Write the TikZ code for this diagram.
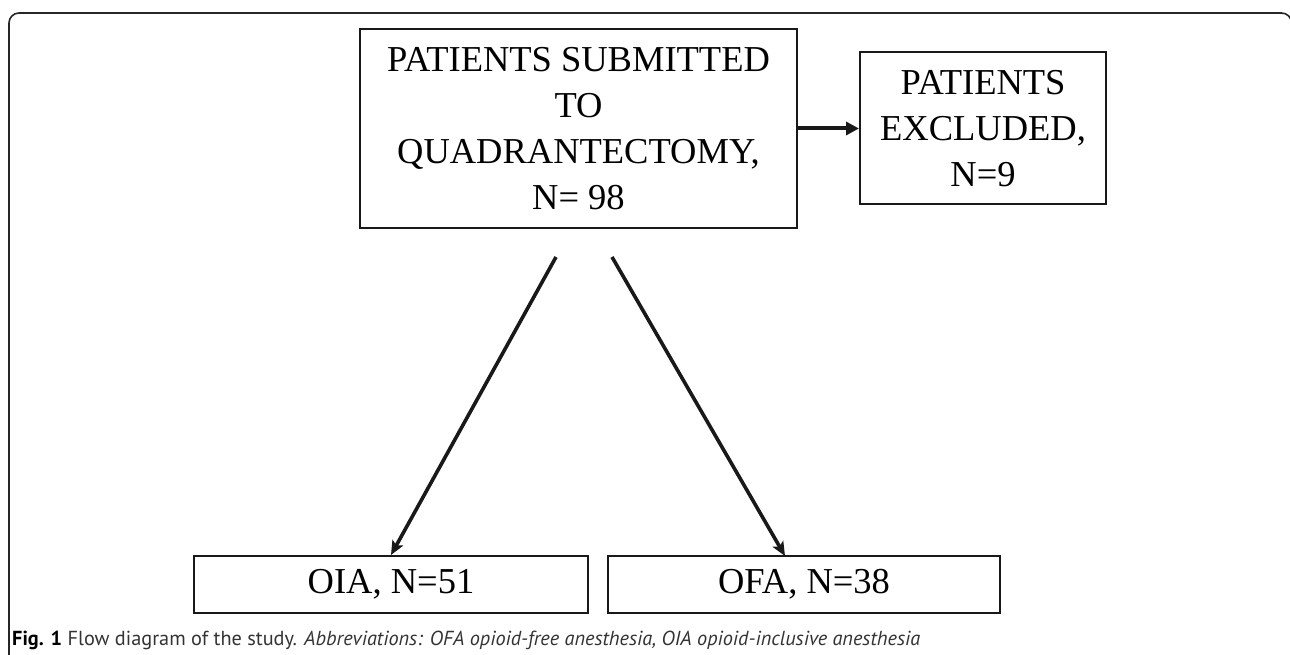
\documentclass[tikz,border=0pt]{standalone}
\usepackage{graphicx}
\usepackage{fontspec}
\setmainfont{Liberation Serif}
\newfontfamily\capfont{PT Sans}
\usetikzlibrary{arrows.meta}
\begin{document}
\begin{tikzpicture}[x=1pt,y=-1pt,
  flowbox/.style={draw=black!90, line width=2pt, align=center, inner sep=0pt,
    font=\fontsize{36.5}{46}\selectfont},
  thickarr/.style={draw=black!90, line width=4pt, -{Triangle[length=13pt,width=13pt]}},
  diagarr/.style={draw=black!90, line width=3.6pt, -{Stealth[length=14pt,width=12pt,inset=3pt]}}]
\useasboundingbox (0,0) rectangle (1290,655);
% outer frame
\draw[line width=1.6pt, black!85, rounded corners=10pt] (9,700) -- (9,13) -- (1291.5,13) -- (1291.5,700);
% nodes
\node[flowbox, minimum width=437pt, minimum height=199pt] (main) at (578.5,128.5)
  {PATIENTS SUBMITTED\\TO\\QUADRANTECTOMY,\\N= 98};
\node[flowbox, minimum width=246pt, minimum height=152pt] (excl) at (983,128.5)
  {PATIENTS\\EXCLUDED,\\N=9};
\node[flowbox, minimum width=394pt, minimum height=57pt] (oia) at (391,584.5) {OIA, N=51};
\node[flowbox, minimum width=392pt, minimum height=57pt] (ofa) at (804,584.5) {OFA, N=38};
% connectors
\coordinate (s1) at (556,257);
\coordinate (s2) at (612,257);
\coordinate (t2) at (785,556);
\draw[thickarr] (main.east) -- (excl.west);
\draw[diagarr] (s1) -- (oia.north);
\draw[diagarr] (s2) -- (t2);
% caption
\node[anchor=base west, inner sep=0pt, text=black!80] (cap) at (12,645)
  {\resizebox{908pt}{!}{\capfont\fontsize{20}{24}\selectfont\textcolor{black}{\textbf{Fig. 1}} Flow diagram of the study. \textit{Abbreviations: OFA opioid-free anesthesia, OIA opioid-inclusive anesthesia}}};
\end{tikzpicture}
\end{document}
